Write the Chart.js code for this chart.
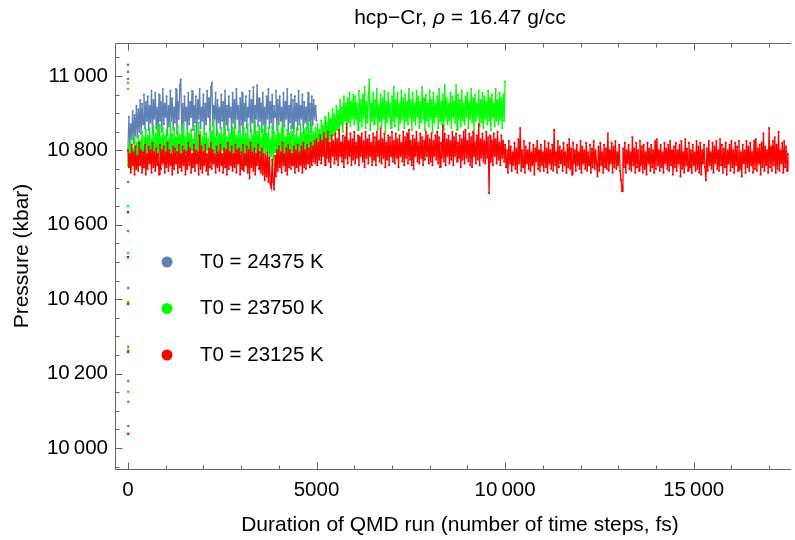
<!DOCTYPE html>
<html>
<head>
<meta charset="utf-8">
<script src="https://cdn.jsdelivr.net/npm/chart.js@4.4.1/dist/chart.umd.min.js"></script>
<style>
body { margin: 0; background: #fff; }
#wrap { width: 795px; height: 540px; }
</style>
</head>
<body>
<div id="wrap"><canvas id="myChart" width="795" height="540"></canvas></div>
<script>
// time steps between stored samples (fs)
var STEP = 25;

var seriesNames = ["T0 = 24375 K", "T0 = 23750 K", "T0 = 23125 K"];
var seriesColors = ["#5e81b5", "#00ff00", "#ff0000"];

// first few steps of each run (far off equilibrium)
var startSteps = [1, 2, 3, 4, 5, 6, 7, 8, 9, 10];
var blueStart = [11030, 11011, 10992, 10715, 10583, 10430, 10272, 10180, 10124, 10059];
var greenStart = [10981, 10965, 10650, 10524, 10392, 10263, 10151];
var redStart = [10634, 10513, 10387, 10258, 10038];

// pressure (kbar), one sample every STEP fs
var bluePressure = [
  10800, 10890, 10815, 10870, 10830, 10905, 10820, 10895, 10840, 10920, 10835, 10910, 10850, 10935, 10845, 10925, 10870, 10950, 10860, 10930,
  10880, 10945, 10855, 10920, 10875, 10960, 10845, 10935, 10885, 10955, 10860, 10915, 10840, 10950, 10880, 10930, 10850, 10965, 10870, 10925,
  10890, 10945, 10840, 10920, 10865, 10960, 10880, 10940, 10855, 10915, 10875, 10965, 10845, 10930, 10885, 10975, 10990, 10860, 10925, 10850,
  10945, 10880, 10915, 10845, 10955, 10870, 10930, 10890, 10960, 10855, 10920, 10875, 10945, 10840, 10935, 10885, 10965, 10860, 10915, 10880,
  10950, 10845, 10925, 10870, 10960, 10890, 10940, 10855, 10970, 10980, 10865, 10920, 10885, 10955, 10840, 10935, 10875, 10915, 10860, 10950,
  10880, 10930, 10845, 10960, 10870, 10920, 10855, 10945, 10890, 10915, 10835, 10955, 10875, 10935, 10860, 10965, 10885, 10920, 10850, 10940,
  10870, 10955, 10835, 10925, 10880, 10945, 10860, 10915, 10890, 10960, 10850, 10935, 10875, 10970, 10845, 10920, 10885, 10975, 10865, 10940,
  10880, 10925, 10850, 10955, 10870, 10915, 10840, 10945, 10885, 10965, 10860, 10930, 10875, 10950, 10845, 10920, 10890, 10960, 10855, 10935,
  10870, 10945, 10880, 10915, 10850, 10955, 10865, 10930, 10885, 10965, 10845, 10920, 10875, 10950, 10860, 10935, 10840, 10945, 10880, 10925,
  10855, 10960, 10870, 10920, 10885, 10950, 10845, 10930, 10875, 10915, 10860, 10955, 10880, 10925, 10850, 10945, 10870, 10935, 10885, 10920, 10880
];
var greenPressure = [
  10760, 10815, 10780, 10830, 10750, 10805, 10770, 10835, 10755, 10820, 10790, 10840, 10760, 10825, 10785, 10850, 10765, 10835, 10795, 10855,
  10775, 10840, 10790, 10860, 10765, 10830, 10800, 10865, 10770, 10845, 10785, 10855, 10760, 10870, 10795, 10835, 10775, 10860, 10790, 10840,
  10765, 10855, 10795, 10830, 10770, 10875, 10785, 10845, 10760, 10860, 10800, 10835, 10775, 10865, 10790, 10840, 10765, 10855, 10795, 10870,
  10780, 10835, 10760, 10860, 10790, 10845, 10770, 10855, 10800, 10830, 10765, 10865, 10785, 10840, 10775, 10875, 10795, 10850, 10760, 10835,
  10790, 10860, 10770, 10845, 10800, 10830, 10765, 10865, 10785, 10850, 10775, 10880, 10795, 10835, 10760, 10855, 10790, 10845, 10770, 10860,
  10800, 10840, 10765, 10870, 10785, 10835, 10775, 10855, 10795, 10845, 10760, 10860, 10790, 10875, 10770, 10840, 10800, 10850, 10765, 10865,
  10785, 10835, 10775, 10860, 10795, 10845, 10765, 10870, 10790, 10830, 10770, 10855, 10800, 10840, 10760, 10875, 10785, 10850, 10775, 10865,
  10795, 10835, 10765, 10855, 10790, 10870, 10775, 10845, 10800, 10860, 10770, 10830, 10785, 10865, 10760, 10850, 10795, 10840, 10775, 10870,
  10790, 10845, 10770, 10860, 10800, 10875, 10765, 10835, 10785, 10855, 10775, 10845, 10795, 10865, 10760, 10850, 10790, 10840, 10770, 10860,
  10800, 10835, 10775, 10870, 10790, 10845, 10765, 10855, 10795, 10860, 10780, 10875, 10800, 10840, 10770, 10865, 10795, 10850, 10785, 10860,
  10780, 10870, 10800, 10855, 10785, 10880, 10810, 10865, 10795, 10890, 10820, 10875, 10805, 10900, 10830, 10885, 10815, 10910, 10840, 10895,
  10830, 10920, 10855, 10905, 10845, 10935, 10870, 10915, 10850, 10945, 10880, 10925, 10860, 10940, 10875, 10955, 10865, 10930, 10885, 10950,
  10870, 10945, 10885, 10925, 10855, 10960, 10880, 10935, 10865, 10950, 10890, 10970, 10860, 10930, 10875, 10945, 10990, 10855, 10925, 10880,
  10955, 10870, 10935, 10890, 10965, 10855, 10920, 10880, 10950, 10865, 10940, 10885, 10960, 10850, 10930, 10875, 10955, 10890, 10925, 10860,
  10945, 10880, 10970, 10865, 10935, 10890, 10955, 10855, 10925, 10875, 10960, 10885, 10940, 10860, 10950, 10880, 10930, 10870, 10965, 10890,
  10935, 10855, 10955, 10880, 10925, 10870, 10960, 10890, 10945, 10860, 10930, 10875, 10970, 10885, 10940, 10855, 10950, 10880, 10925, 10865,
  10960, 10885, 10935, 10850, 10955, 10875, 10925, 10890, 10945, 10860, 10965, 10880, 10930, 10870, 10950, 10855, 10975, 10885, 10940, 10870,
  10925, 10880, 10955, 10860, 10945, 10890, 10930, 10875, 10975, 10855, 10950, 10885, 10935, 10865, 10960, 10880, 10925, 10870, 10945, 10890,
  10955, 10860, 10930, 10885, 10965, 10875, 10940, 10855, 10950, 10880, 10925, 10890, 10960, 10865, 10935, 10875, 10955, 10860, 10945, 10885,
  10930, 10870, 10960, 10880, 10940, 10855, 10950, 10890, 10925, 10865, 10965, 10880, 10935, 10870, 10955, 10885, 10940, 10860, 10950, 10880, 10985
];
var redPressure = [
  10800, 10755, 10790, 10740, 10815, 10760, 10795, 10735, 10810, 10750, 10785, 10745, 10820, 10760, 10800, 10740, 10795, 10755, 10815, 10735,
  10790, 10750, 10810, 10765, 10800, 10740, 10820, 10755, 10795, 10745, 10805, 10760, 10790, 10735, 10815, 10750, 10800, 10765, 10810, 10740,
  10795, 10755, 10820, 10745, 10800, 10760, 10790, 10735, 10810, 10750, 10805, 10765, 10795, 10740, 10815, 10755, 10790, 10745, 10810, 10760,
  10800, 10735, 10795, 10750, 10820, 10760, 10805, 10740, 10790, 10755, 10815, 10745, 10800, 10765, 10795, 10735, 10840, 10750, 10810, 10740,
  10795, 10760, 10815, 10745, 10790, 10735, 10805, 10755, 10820, 10750, 10800, 10765, 10790, 10740, 10810, 10755, 10795, 10745, 10815, 10760,
  10790, 10740, 10805, 10755, 10800, 10735, 10820, 10750, 10795, 10760, 10810, 10745, 10790, 10755, 10815, 10740, 10800, 10765, 10805, 10735,
  10795, 10750, 10815, 10745, 10790, 10760, 10810, 10740, 10800, 10725, 10820, 10755, 10795, 10745, 10805, 10735, 10790, 10760, 10815, 10750,
  10795, 10740, 10805, 10735, 10790, 10720, 10785, 10730, 10795, 10715, 10780, 10710, 10700, 10775, 10715, 10695, 10785, 10730, 10800, 10745,
  10810, 10755, 10795, 10740, 10820, 10760, 10790, 10745, 10805, 10735, 10815, 10755, 10800, 10750, 10790, 10760, 10810, 10740, 10800, 10755,
  10815, 10745, 10795, 10760, 10810, 10740, 10820, 10755, 10800, 10750, 10815, 10765, 10805, 10755, 10820, 10760, 10810, 10770, 10825, 10765,
  10830, 10760, 10820, 10775, 10840, 10765, 10825, 10785, 10845, 10760, 10830, 10780, 10850, 10770, 10820, 10755, 10840, 10785, 10825, 10765,
  10845, 10775, 10830, 10760, 10855, 10785, 10820, 10770, 10840, 10755, 10835, 10780, 10870, 10765, 10825, 10785, 10845, 10760, 10830, 10775,
  10850, 10765, 10820, 10780, 10840, 10760, 10835, 10785, 10845, 10770, 10825, 10755, 10850, 10780, 10830, 10765, 10840, 10785, 10820, 10760,
  10845, 10775, 10835, 10760, 10850, 10785, 10825, 10770, 10860, 10765, 10830, 10780, 10845, 10755, 10820, 10775, 10840, 10760, 10835, 10785,
  10850, 10770, 10825, 10765, 10845, 10780, 10830, 10755, 10840, 10785, 10820, 10770, 10850, 10760, 10835, 10780, 10845, 10765, 10855, 10775,
  10825, 10760, 10840, 10750, 10830, 10785, 10850, 10770, 10820, 10765, 10845, 10780, 10835, 10760, 10825, 10775, 10850, 10785, 10840, 10765,
  10830, 10770, 10845, 10760, 10825, 10785, 10840, 10775, 10850, 10765, 10835, 10755, 10820, 10780, 10865, 10770, 10845, 10760, 10830, 10785,
  10840, 10765, 10825, 10775, 10850, 10760, 10835, 10785, 10845, 10770, 10820, 10780, 10840, 10755, 10830, 10775, 10850, 10765, 10855, 10780,
  10825, 10770, 10845, 10760, 10835, 10755, 10850, 10785, 10820, 10765, 10840, 10775, 10870, 10760, 10830, 10780, 10845, 10770, 10825, 10765,
  10850, 10780, 10835, 10685, 10840, 10770, 10825, 10760, 10845, 10785, 10830, 10765, 10850, 10775, 10820, 10760, 10840, 10780, 10825, 10770,
  10815, 10755, 10800, 10740, 10825, 10765, 10810, 10745, 10795, 10760, 10820, 10750, 10805, 10740, 10830, 10765, 10860, 10745, 10800, 10755,
  10825, 10740, 10810, 10765, 10800, 10750, 10820, 10745, 10795, 10760, 10815, 10735, 10805, 10770, 10825, 10750, 10800, 10745, 10815, 10760,
  10795, 10745, 10825, 10755, 10805, 10740, 10820, 10765, 10800, 10750, 10815, 10745, 10855, 10760, 10795, 10740, 10825, 10755, 10810, 10765,
  10800, 10745, 10820, 10760, 10795, 10740, 10815, 10755, 10830, 10750, 10805, 10735, 10820, 10765, 10800, 10745, 10815, 10760, 10795, 10750,
  10825, 10740, 10810, 10765, 10800, 10750, 10820, 10745, 10795, 10760, 10815, 10740, 10805, 10755, 10825, 10750, 10800, 10765, 10730, 10810,
  10745, 10820, 10760, 10795, 10740, 10815, 10755, 10805, 10750, 10845, 10745, 10800, 10765, 10820, 10740, 10810, 10755, 10825, 10750, 10795,
  10760, 10815, 10745, 10720, 10690, 10805, 10755, 10820, 10740, 10800, 10765, 10815, 10750, 10795, 10745, 10835, 10760, 10805, 10740, 10820,
  10755, 10800, 10745, 10825, 10760, 10810, 10740, 10815, 10750, 10795, 10735, 10820, 10765, 10805, 10745, 10815, 10755, 10800, 10740, 10825,
  10750, 10830, 10760, 10800, 10745, 10815, 10755, 10795, 10740, 10820, 10765, 10805, 10750, 10815, 10745, 10825, 10760, 10800, 10735, 10810,
  10755, 10820, 10745, 10800, 10765, 10815, 10730, 10825, 10750, 10795, 10740, 10830, 10760, 10805, 10745, 10820, 10755, 10800, 10740, 10815,
  10760, 10795, 10745, 10825, 10750, 10810, 10740, 10820, 10735, 10800, 10765, 10815, 10755, 10720, 10805, 10745, 10825, 10760, 10795, 10750,
  10820, 10740, 10810, 10765, 10825, 10750, 10800, 10745, 10830, 10760, 10815, 10740, 10805, 10755, 10820, 10735, 10800, 10765, 10815, 10745,
  10825, 10755, 10800, 10740, 10820, 10760, 10810, 10745, 10825, 10750, 10795, 10730, 10815, 10765, 10800, 10740, 10825, 10755, 10810, 10745,
  10820, 10760, 10795, 10740, 10825, 10750, 10830, 10745, 10805, 10765, 10815, 10735, 10820, 10755, 10845, 10745, 10810, 10760, 10800, 10740,
  10860, 10755, 10810, 10745, 10825, 10760, 10835, 10740, 10815, 10750, 10850, 10745, 10800, 10765, 10820, 10740, 10825, 10755, 10810, 10745, 10790
];

var xTickValues = [0, 5000, 10000, 15000];
var yTickValues = [10000, 10200, 10400, 10600, 10800, 11000];

var FONT = '"Liberation Sans", Arial, sans-serif';

function toPoints(values, step, first) {
  return values.map(function (v, i) { return { x: first + i * step, y: v }; });
}

function groupDigits(v) {
  var s = String(v);
  if (Math.abs(v) >= 10000) {
    s = s.slice(0, s.length - 3) + "\u2009" + s.slice(s.length - 3);
  }
  return s;
}

function runSet(values, color, order) {
  return {
    data: toPoints(values, STEP, 0),
    showLine: true,
    borderColor: color,
    borderWidth: 1.3,
    backgroundColor: color,
    pointRadius: 1.1,
    pointBorderWidth: 0,
    order: order
  };
}

function startSet(values, color, order) {
  return {
    data: values.map(function (v, i) { return { x: startSteps[i], y: v }; }),
    showLine: false,
    backgroundColor: color,
    pointRadius: 1.3,
    pointBorderWidth: 0,
    order: order
  };
}

var framePlugin = {
  id: "frame",
  afterDraw: function (chart) {
    var ctx = chart.ctx;
    var a = chart.chartArea;
    var xs = chart.scales.x;
    var ys = chart.scales.y;
    var L = Math.round(a.left) + 0.5;
    var B = Math.round(a.bottom) + 0.5;
    var T = Math.round(a.top) + 0.5;
    ctx.save();
    ctx.strokeStyle = "#666";
    ctx.lineWidth = 1;
    ctx.beginPath();
    ctx.moveTo(a.right, T); ctx.lineTo(L, T); ctx.lineTo(L, B); ctx.lineTo(a.right, B);
    // x ticks (bottom and top, pointing inward)
    for (var v = 0; v <= 17000; v += 1000) {
      var len = (v % 5000 === 0) ? 7 : 4;
      var px = Math.round(xs.getPixelForValue(v)) + 0.5;
      ctx.moveTo(px, B); ctx.lineTo(px, B - len);
      ctx.moveTo(px, T); ctx.lineTo(px, T + len);
    }
    // y ticks (left, pointing inward)
    for (var w = 9950; w <= 11050; w += 50) {
      var ylen = (w % 200 === 0) ? 7 : 4;
      var py = Math.round(ys.getPixelForValue(w)) + 0.5;
      ctx.moveTo(L, py); ctx.lineTo(L + ylen, py);
    }
    ctx.stroke();

    // title
    ctx.fillStyle = "#000";
    ctx.textBaseline = "middle";
    ctx.textAlign = "left";
    var parts = [["hcp\u2212Cr, ", ""], ["\u03c1", "italic "], [" = 16.47 g/cc", ""]];
    var total = 0;
    parts.forEach(function (p) { ctx.font = p[1] + "21px " + FONT; total += ctx.measureText(p[0]).width; });
    var tx = 460 - total / 2;
    parts.forEach(function (p) {
      ctx.font = p[1] + "21px " + FONT;
      ctx.fillText(p[0], tx, 18);
      tx += ctx.measureText(p[0]).width;
    });

    // axis titles
    ctx.font = "21px " + FONT;
    ctx.textAlign = "center";
    ctx.fillText("Duration of QMD run (number of time steps, fs)", 460, 525);
    ctx.save();
    ctx.translate(22, 256);
    ctx.rotate(-Math.PI / 2);
    ctx.fillText("Pressure (kbar)", 0, 0);
    ctx.restore();

    // legend
    var legendY = [262, 308.5, 355];
    ctx.font = "20.5px " + FONT;
    ctx.textAlign = "left";
    for (var k = 0; k < seriesNames.length; k++) {
      ctx.fillStyle = seriesColors[k];
      ctx.beginPath();
      ctx.arc(167, legendY[k], 5.5, 0, Math.PI * 2);
      ctx.fill();
      ctx.fillStyle = "#000";
      ctx.fillText(seriesNames[k], 200, legendY[k]);
    }
    ctx.restore();
  }
};

new Chart("myChart", {
  type: "scatter",
  data: {
    datasets: [
      runSet(bluePressure, seriesColors[0], 3),
      startSet(blueStart, seriesColors[0], 3),
      runSet(greenPressure, seriesColors[1], 2),
      startSet(greenStart, seriesColors[1], 2),
      runSet(redPressure, seriesColors[2], 1),
      startSet(redStart, seriesColors[2], 1)
    ]
  },
  options: {
    responsive: false,
    animation: false,
    layout: { padding: { top: 43, left: 0, right: 0, bottom: 0 } },
    plugins: {
      legend: { display: false },
      tooltip: { enabled: false },
      title: { display: false }
    },
    scales: {
      x: {
        type: "linear",
        min: -343,
        max: 17580,
        grid: { display: false, drawTicks: false },
        border: { display: false },
        afterBuildTicks: function (s) { s.ticks = xTickValues.map(function (v) { return { value: v }; }); },
        afterFit: function (s) { s.height = 71; },
        ticks: {
          color: "#000",
          padding: 9,
          maxRotation: 0,
          autoSkip: false,
          font: { family: FONT, size: 20.5 },
          callback: function (v) { return groupDigits(v); }
        }
      },
      y: {
        type: "linear",
        min: 9943.5,
        max: 11088.7,
        grid: { display: false, drawTicks: false },
        border: { display: false },
        afterBuildTicks: function (s) { s.ticks = yTickValues.map(function (v) { return { value: v }; }); },
        afterFit: function (s) { s.width = 115; },
        ticks: {
          color: "#000",
          padding: 7,
          autoSkip: false,
          font: { family: FONT, size: 20.5 },
          callback: function (v) { return groupDigits(v); }
        }
      }
    }
  },
  plugins: [framePlugin]
});
</script>
</body>
</html>
